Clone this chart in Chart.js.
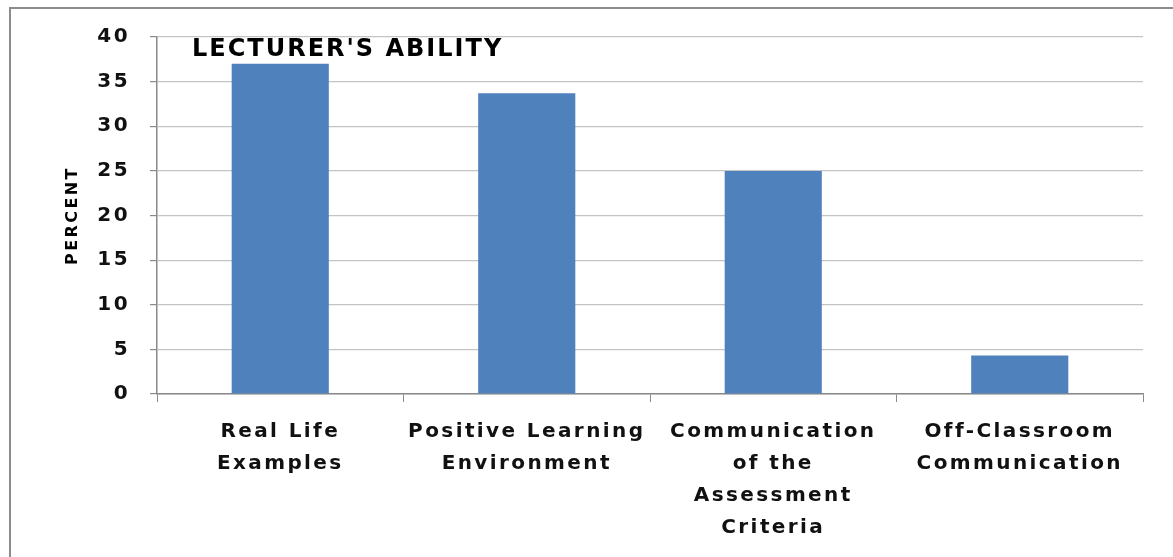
<!DOCTYPE html>
<html><head><meta charset="utf-8">
<style>html,body{margin:0;padding:0;background:#fff;}#wrap{width:1173px;height:557px;position:relative;}</style>
<script src="https://cdn.jsdelivr.net/npm/chart.js@4.4.1/dist/chart.umd.min.js"></script>
</head><body><div id="wrap"><canvas id="c"></canvas></div>
<script>
const categories = [
  ['Real Life', 'Examples'],
  ['Positive Learning', 'Environment'],
  ['Communication', 'of the', 'Assessment', 'Criteria'],
  ['Off-Classroom', 'Communication']
];
const percentValues = [37.0, 33.7, 25.0, 4.3];
const yTicks = [0, 5, 10, 15, 20, 25, 30, 35, 40];
const chartTitle = "LECTURER'S ABILITY";
const yAxisTitle = 'PERCENT';

const FONT = "'DejaVu Sans', sans-serif";
const LS = '2.4px';

const extras = {
  id: 'extras',
  beforeLayout(chart) { chart.ctx.letterSpacing = LS; },
  beforeDraw(chart) {
    const ctx = chart.ctx;
    ctx.save();
    ctx.strokeStyle = '#8c8c8c';
    ctx.lineWidth = 2;
    ctx.strokeRect(10, 8, 1400, 800);
    ctx.restore();
    ctx.letterSpacing = LS;
  },
  afterDraw(chart) {
    const ctx = chart.ctx;
    const a = chart.chartArea;
    ctx.save();
    ctx.letterSpacing = '2px';
    ctx.font = "bold 24px " + FONT;
    ctx.fillStyle = '#000';
    ctx.textBaseline = 'middle';
    ctx.textAlign = 'left';
    ctx.fillText(chartTitle, a.left + 35, a.top + 13);
    ctx.restore();
  }
};

new Chart(document.getElementById('c'), {
  type: 'bar',
  data: {
    labels: categories,
    datasets: [{
      data: percentValues,
      backgroundColor: '#4f81bd',
      borderWidth: 0,
      barPercentage: 0.394,
      categoryPercentage: 1.0
    }]
  },
  options: {
    responsive: true,
    maintainAspectRatio: false,
    animation: false,
    devicePixelRatio: 1,
    layout: { padding: { left: 0, top: 37, right: 30, bottom: 0 } },
    plugins: { legend: { display: false }, tooltip: { enabled: false }, title: { display: false } },
    scales: {
      x: {
        grid: { display: true, drawOnChartArea: false, drawTicks: true, tickLength: 8, tickColor: '#8a8a8a', offset: true },
        border: { display: true, color: '#8a8a8a', width: 1.5 },
        ticks: {
          font: { family: FONT, size: 20, weight: 'bold', lineHeight: 1.6 },
          color: '#111',
          padding: 14,
          maxRotation: 0,
          minRotation: 0,
          autoSkip: false
        },
        afterFit(scale) { scale.height = 163; }
      },
      y: {
        min: yTicks[0],
        max: yTicks[yTicks.length - 1],
        grid: { color: '#c4c4c4', lineWidth: 1.2, drawTicks: true, tickLength: 7, tickColor: '#8a8a8a' },
        border: { display: true, color: '#8a8a8a', width: 1.5 },
        ticks: {
          stepSize: yTicks[1] - yTicks[0],
          font: { family: FONT, size: 20, weight: 'bold' },
          color: '#111',
          padding: 20
        },
        title: {
          display: true,
          text: yAxisTitle,
          font: { family: FONT, size: 16, weight: 'bold' },
          color: '#000',
          padding: { top: 63, bottom: 0 }
        },
        afterFit(scale) { scale.width = 157; }
      }
    }
  },
  plugins: [extras]
});
</script>
</body></html>
